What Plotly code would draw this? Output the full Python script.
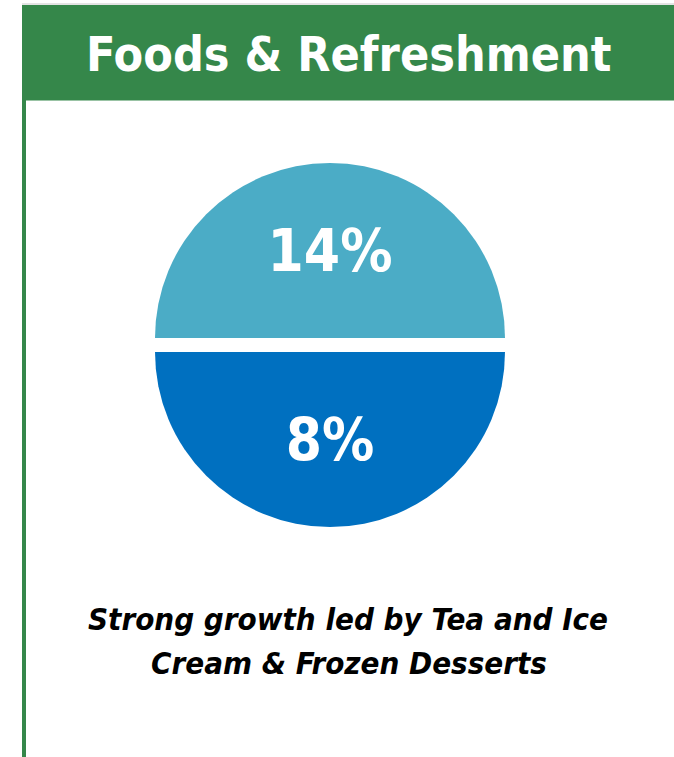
import plotly.graph_objects as go

# Data
segments = ["Top", "Bottom"]
shares = [50, 50]
labels = ["14%", "8%"]
colors = ["#4BACC6", "#0070C0"]
title_text = "Foods & Refreshment"
caption_lines = ["Strong growth led by Tea and Ice", "Cream & Frozen Desserts"]

W, H = 674, 757
GREEN = "#35874A"
FONT = "DejaVu Sans Condensed, Liberation Sans Narrow, Roboto, sans-serif"

def px_x(x):
    return x / W

def px_y(y):
    return 1 - y / H

cx, cy, half = 330, 345, 182

fig = go.Figure(go.Pie(
    labels=segments,
    values=shares,
    text=labels,
    textinfo="text",
    textposition="inside",
    insidetextorientation="horizontal",
    sort=False,
    direction="clockwise",
    rotation=270,
    pull=[0.04, 0.04],
    marker=dict(colors=colors, line=dict(width=0)),
    textfont=dict(family=FONT, size=58, color="white", weight="bold"),
    domain=dict(x=[px_x(cx - half), px_x(cx + half)], y=[px_y(cy + half), px_y(cy - half)]),
    showlegend=False,
    hoverinfo="skip",
))

shapes = [
    dict(type="rect", xref="paper", yref="paper", x0=px_x(22), x1=1, y0=px_y(100.5), y1=px_y(5),
         fillcolor=GREEN, line=dict(width=0), layer="below"),
    dict(type="rect", xref="paper", yref="paper", x0=px_x(22), x1=px_x(26), y0=0, y1=px_y(100),
         fillcolor=GREEN, line=dict(width=0), layer="below"),
    dict(type="line", xref="paper", yref="paper", x0=px_x(22), x1=1, y0=px_y(4), y1=px_y(4),
         line=dict(color="#c8c8c8", width=1)),
]

annotations = [
    dict(text="<b>" + title_text + "</b>", xref="paper", yref="paper", x=px_x(349), y=px_y(54),
         xanchor="center", yanchor="middle", showarrow=False,
         font=dict(family=FONT, size=48, color="white")),
    dict(text="<b><i>" + caption_lines[0] + "</i></b>",
         xref="paper", yref="paper", x=px_x(348), y=px_y(619),
         xanchor="center", yanchor="middle", showarrow=False, align="center",
         font=dict(family=FONT, size=31, color="black")),
    dict(text="<b><i>" + caption_lines[1] + "</i></b>",
         xref="paper", yref="paper", x=px_x(349), y=px_y(663),
         xanchor="center", yanchor="middle", showarrow=False, align="center",
         font=dict(family=FONT, size=31, color="black")),
]

fig.update_layout(
    width=W, height=H,
    margin=dict(l=0, r=0, t=0, b=0),
    paper_bgcolor="white", plot_bgcolor="white",
    shapes=shapes, annotations=annotations,
)

fig.write_html("out.html")
